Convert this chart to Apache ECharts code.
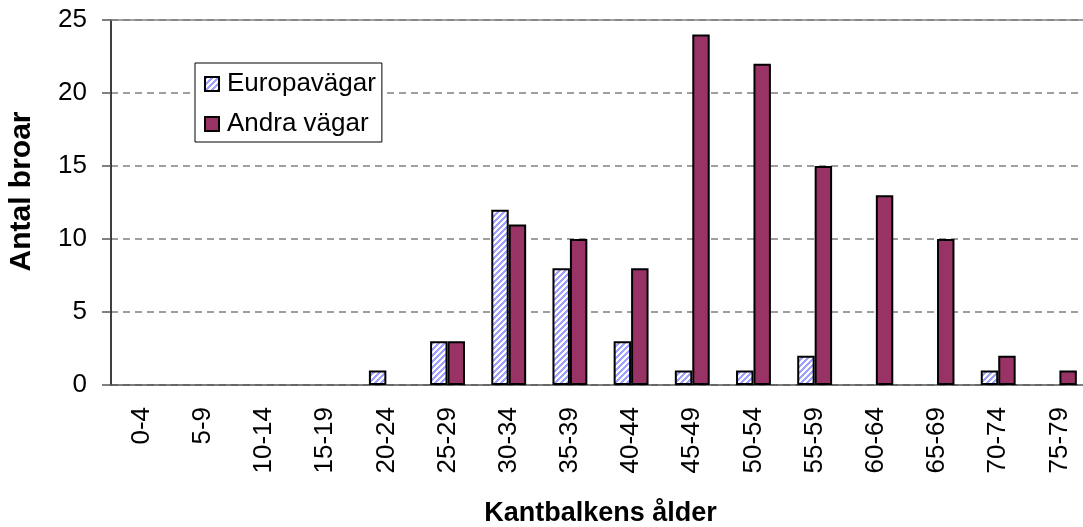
<!DOCTYPE html>
<html>
<head>
<meta charset="utf-8">
<script src="https://cdn.jsdelivr.net/npm/echarts@6/dist/echarts.min.js"></script>
<style>
  html, body { margin: 0; padding: 0; background: #fff; }
  #contain { width: 1083px; height: 527px; }
</style>
</head>
<body>
<div id="contain"></div>
<script>
// data
let ageGroups = ['0-4', '5-9', '10-14', '15-19', '20-24', '25-29', '30-34', '35-39',
    '40-44', '45-49', '50-54', '55-59', '60-64', '65-69', '70-74', '75-79'];
let europavagar = [0, 0, 0, 0, 1, 3, 12, 8, 3, 1, 1, 2, 0, 0, 1, 0];
let andraVagar = [0, 0, 0, 0, 0, 3, 11, 10, 8, 24, 22, 15, 13, 10, 2, 1];
let yTicks = [0, 5, 10, 15, 20, 25];

let font = "'Liberation Sans', Arial, sans-serif";

// blue/white diagonal hatch like the excel fill
function hatch() {
    let n = 6;
    let c = document.createElement('canvas');
    c.width = n; c.height = n;
    let ctx = c.getContext('2d');
    let img = ctx.createImageData(n, n);
    for (let y = 0; y < n; y++) {
        for (let x = 0; x < n; x++) {
            let i = (y * n + x) * 4;
            let blue = (x + y) % n < 3;
            img.data[i] = blue ? 160 : 255;
            img.data[i + 1] = blue ? 160 : 255;
            img.data[i + 2] = 255;
            img.data[i + 3] = 255;
        }
    }
    ctx.putImageData(img, 0, 0);
    return c;
}

// zero counts draw no bar
let noZero = arr => arr.map(v => v === 0 ? '-' : v);

let chart = echarts.init(document.getElementById('contain'));
let option = {
    animation: false,
    textStyle: { fontFamily: font },
    grid: { left: 111, top: 20, right: -7, bottom: 142, outerBoundsMode: 'none' },
    legend: {
        orient: 'vertical',
        left: 195,
        top: 63,
        padding: [8, 6, 5, 9],
        itemGap: 14,
        itemWidth: 14,
        itemHeight: 14,
        backgroundColor: '#fff',
        borderColor: '#000',
        borderWidth: 1,
        icon: 'rect',
        textStyle: { fontFamily: font, fontSize: 26, color: '#000', padding: [0, 0, 0, 3] },
        data: ['Europavägar', 'Andra vägar']
    },
    xAxis: [{
        type: 'category',
        data: ageGroups,
        name: 'Kantbalkens ålder',
        nameLocation: 'middle',
        nameGap: 115,
        nameTextStyle: { fontFamily: font, fontSize: 27, fontWeight: 'bold', color: '#000' },
        axisLine: { lineStyle: { color: '#555', width: 1.5 } },
        axisTick: { length: 8, lineStyle: { color: '#555', width: 1.5 } },
        axisLabel: { rotate: 90, margin: 22, fontFamily: font, fontSize: 26, color: '#000' },
        splitLine: { show: false }
    }, {
        type: 'category',
        position: 'top',
        data: ageGroups,
        axisLine: { lineStyle: { color: '#808080', width: 1.5 } },
        axisTick: { show: false },
        axisLabel: { show: false }
    }],
    yAxis: {
        type: 'value',
        min: yTicks[0],
        max: yTicks[yTicks.length - 1],
        interval: 5,
        name: 'Antal broar',
        nameLocation: 'middle',
        nameGap: 74,
        nameTextStyle: { fontFamily: font, fontSize: 30, fontWeight: 'bold', color: '#000', padding: [0, 0, 0, 22] },
        axisLine: { show: true, lineStyle: { color: '#000', width: 1.5 } },
        axisTick: { show: true, length: 9, lineStyle: { color: '#555', width: 1.5 } },
        axisLabel: { margin: 24, fontFamily: font, fontSize: 26, color: '#000' },
        splitLine: { lineStyle: { color: '#808080', type: [7, 5], width: 1.5 } }
    },
    series: [{
        name: 'Europavägar',
        type: 'bar',
        data: noZero(europavagar),
        barGap: '0%',
        barCategoryGap: '43%',
        itemStyle: {
            color: { image: hatch(), repeat: 'repeat' },
            borderColor: '#000',
            borderWidth: 2
        }
    }, {
        name: 'Andra vägar',
        type: 'bar',
        data: noZero(andraVagar),
        barGap: '0%',
        barCategoryGap: '43%',
        itemStyle: {
            color: '#993366',
            borderColor: '#000',
            borderWidth: 2
        }
    }]
};
chart.setOption(option);
</script>
</body>
</html>
